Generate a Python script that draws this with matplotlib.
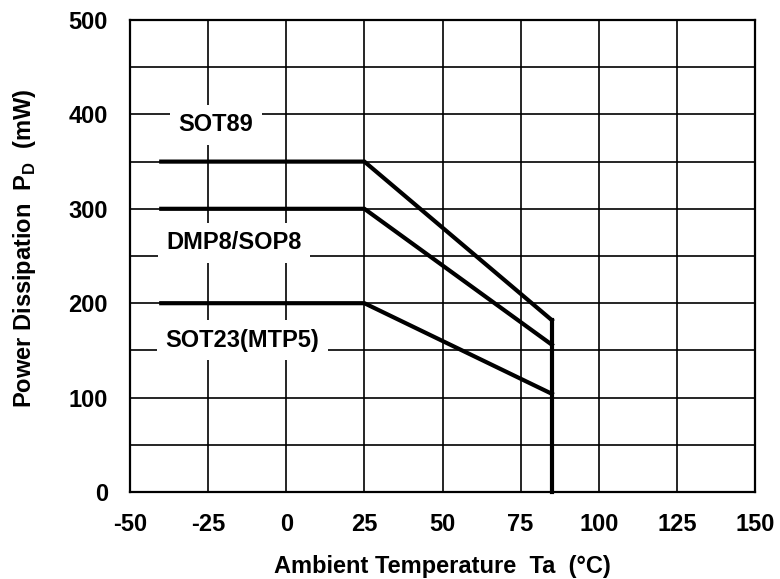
import matplotlib
matplotlib.use("Agg")
import matplotlib.pyplot as plt

plt.rcParams["font.family"] = ["Liberation Sans", "DejaVu Sans"]
plt.rcParams["font.weight"] = "bold"
plt.rcParams["axes.unicode_minus"] = False

# derating curves: flat to 25 C, linear drop to 85 C
temps = [-40, 25, 85]
sot89 = [350, 350, 182]
dmp8 = [300, 300, 156]
sot23 = [200, 200, 104]
cutoff_x = [85, 85]
cutoff_y = [182, 0]

labels = ["SOT89", "DMP8/SOP8", "SOT23(MTP5)"]
label_x = [-22.5, -16.7, -14]
label_y = [389, 264, 161]

xticks = [-50, -25, 0, 25, 50, 75, 100, 125, 150]
yticks = [0, 100, 200, 300, 400, 500]
yminor = [50, 150, 250, 350, 450]

fig = plt.figure(figsize=(7.8, 5.79), dpi=100)
ax = fig.add_axes([130 / 780, 87 / 579, 625 / 780, 472 / 579])

for ys in (sot89, dmp8, sot23):
    ax.plot(temps, ys, color="black", lw=3, solid_joinstyle="miter", zorder=4)
ax.plot(cutoff_x, cutoff_y, color="black", lw=3, zorder=4, clip_on=False,
        solid_capstyle="projecting")

for t, x, y in zip(labels, label_x, label_y):
    ax.text(x, y, t, ha="center", va="center", fontsize=17, fontweight="bold",
            zorder=3, bbox=dict(facecolor="white", edgecolor="none", pad=6))

ax.set_xlim(-50, 150)
ax.set_ylim(0, 500)
ax.set_xticks(xticks)
ax.set_yticks(yticks)
ax.set_yticks(yminor, minor=True)
ax.grid(True, which="both", color="black", lw=1.2, zorder=1)
ax.set_axisbelow(True)
ax.tick_params(which="both", length=0)
ax.tick_params(axis="x", pad=15, labelsize=17)
ax.tick_params(axis="y", pad=16, labelsize=17)
for s in ax.spines.values():
    s.set_linewidth(1.6)

ax.set_xlabel("Ambient Temperature  Ta  (°C)", fontsize=17, fontweight="bold", labelpad=14)
ax.set_ylabel(r"Power Dissipation  P$_\mathregular{D}$  (mW)", fontsize=17,
              fontweight="bold")
ax.yaxis.set_label_coords(-0.147, 0.517)

fig.savefig("out.png", dpi=100)
